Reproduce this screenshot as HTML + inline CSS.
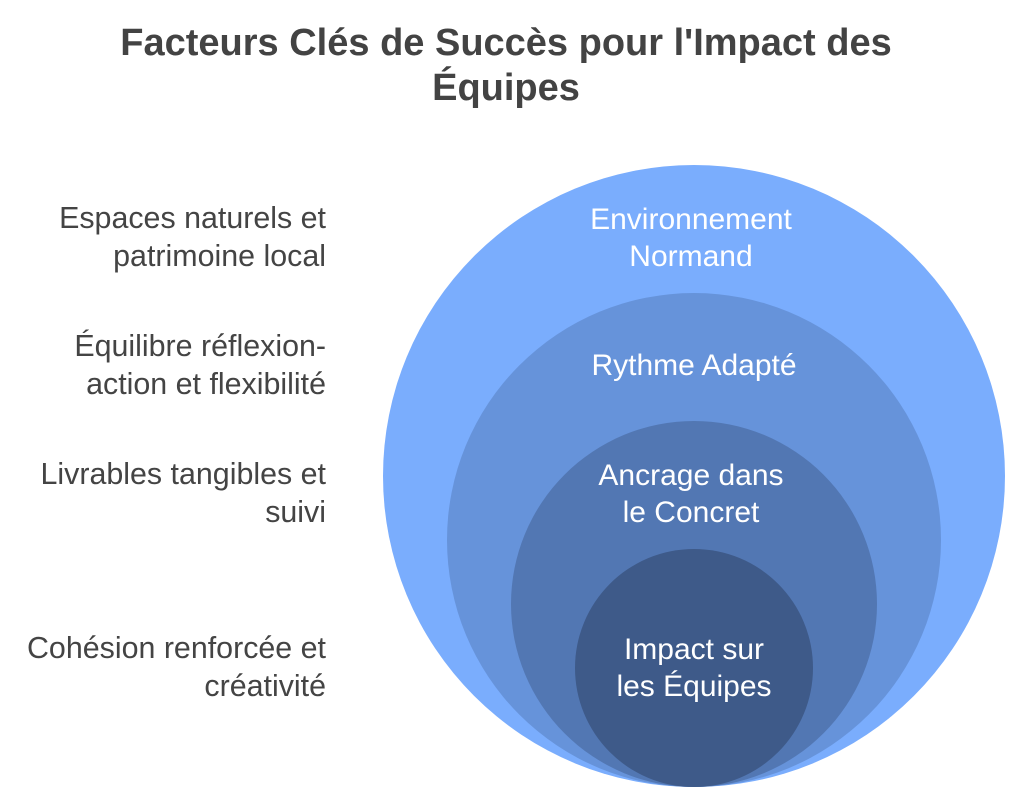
<!DOCTYPE html>
<html><head><meta charset="utf-8"><style>
body{margin:0;width:1024px;height:805px;background:#fff;font-family:"Liberation Sans",sans-serif;position:relative;overflow:hidden}
.t{position:absolute;left:-6px;width:1024px;text-align:center;top:21px;font-size:38px;font-weight:bold;color:#434343;line-height:45px}
.l{position:absolute;right:698px;text-align:right;font-size:30.4px;color:#444;line-height:38px;white-space:nowrap}
</style></head><body>
<div class="t">Facteurs Clés de Succès pour l'Impact des<br>Équipes</div>
<div class="l" style="top:199px">Espaces naturels et<br>patrimoine local</div>
<div class="l" style="top:327px">Équilibre réflexion-<br>action et flexibilité</div>
<div class="l" style="top:455px">Livrables tangibles et<br>suivi</div>
<div class="l" style="top:629px">Cohésion renforcée et<br>créativité</div>
<svg width="1024" height="805" style="position:absolute;left:0;top:0">
<circle cx="694" cy="476" r="311" fill="#7aadfd"/>
<circle cx="694" cy="540" r="247" fill="#6693da"/>
<circle cx="694" cy="604" r="183" fill="#5277b3"/>
<circle cx="694" cy="668" r="119" fill="#3e5a89"/>
<g font-family="Liberation Sans, sans-serif" font-size="30" fill="#fff" text-anchor="middle">
<text x="691" y="229">Environnement</text><text x="691" y="266">Normand</text>
<text x="694" y="375">Rythme Adapté</text>
<text x="691" y="485">Ancrage dans</text><text x="691" y="522">le Concret</text>
<text x="694" y="659">Impact sur</text><text x="694" y="696">les Équipes</text>
</g></svg>
</body></html>
